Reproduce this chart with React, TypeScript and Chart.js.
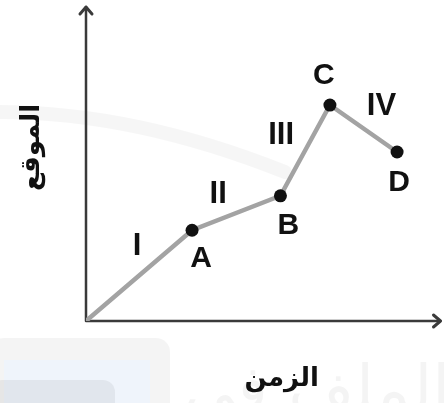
import React, { useEffect, useRef } from "react";
import { Chart, registerables } from "chart.js";

Chart.register(...registerables);

// Motion stages: origin, then A, B, C, D
const pointNames = ["", "A", "B", "C", "D"];
const timeValues = [0, 3.0, 5.5, 6.9, 8.8];
const positionValues = [0, 2.9, 4.0, 6.9, 5.4];
const segmentNames = ["I", "II", "III", "IV"];
const xTitle = "الزمن";
const yTitle = "الموقع";

// Label placement relative to the marks (pixels)
const POINT_LABEL_OFFSET = [
  [0, 0],
  [9, 29],
  [8, 30],
  [-6, -29],
  [2, 31],
];
const SEGMENT_LABEL_OFFSET = [
  [-2, -29],
  [-18, -19],
  [-24, -15],
  [18, -22],
];

const POINT_FONT = "bold 30px 'Liberation Sans', Arial, sans-serif";
const SEGMENT_FONT = "bold 31px 'Liberation Sans', Arial, sans-serif";
const TITLE_FONT = "bold 26px 'DejaVu Sans', sans-serif";
const AXIS_COLOR = "#3a3a3a";

const backdrop = {
  id: "backdrop",
  beforeDraw(chart: Chart) {
    const { ctx, width, height } = chart;
    ctx.save();
    ctx.fillStyle = "#ffffff";
    ctx.fillRect(0, 0, width, height);

    // faint swoosh
    ctx.strokeStyle = "rgba(0,0,0,0.035)";
    ctx.lineWidth = 14;
    ctx.lineCap = "round";
    ctx.beginPath();
    ctx.moveTo(-10, 112);
    ctx.quadraticCurveTo(130, 110, 285, 172);
    ctx.stroke();

    // faint card in the lower left corner
    ctx.fillStyle = "rgba(0,0,0,0.045)";
    ctx.beginPath();
    ctx.roundRect(-10, 338, 180, 80, 14);
    ctx.fill();
    ctx.fillStyle = "#eff4fb";
    ctx.fillRect(4, 360, 146, 50);
    ctx.fillStyle = "rgba(0,0,0,0.055)";
    ctx.beginPath();
    ctx.roundRect(-10, 380, 125, 40, 12);
    ctx.fill();

    // faint lettering
    ctx.fillStyle = "rgba(0,0,0,0.045)";
    ctx.font = "64px 'DejaVu Sans', sans-serif";
    ctx.textAlign = "right";
    ctx.textBaseline = "alphabetic";
    ctx.direction = "rtl";
    ctx.fillText("الملف في", width + 4, height + 8);
    ctx.restore();
  },
};

const axesAndLabels = {
  id: "axesAndLabels",
  beforeDatasetsDraw(chart: Chart) {
    const { ctx, scales } = chart;
    const x0 = scales.x.getPixelForValue(0);
    const y0 = scales.y.getPixelForValue(0);
    const yTop = chart.chartArea.top - 1;
    const xEnd = chart.chartArea.right + 1;
    ctx.save();
    ctx.strokeStyle = AXIS_COLOR;
    ctx.lineWidth = 2.5;
    ctx.lineCap = "round";
    ctx.lineJoin = "round";
    ctx.beginPath();
    ctx.moveTo(x0, y0);
    ctx.lineTo(x0, yTop);
    ctx.moveTo(x0, y0);
    ctx.lineTo(xEnd, y0);
    ctx.stroke();
    ctx.lineWidth = 3;
    ctx.beginPath();
    ctx.moveTo(x0 - 6, yTop + 7);
    ctx.lineTo(x0, yTop);
    ctx.lineTo(x0 + 6, yTop + 7);
    ctx.moveTo(xEnd - 7, y0 - 6);
    ctx.lineTo(xEnd, y0);
    ctx.lineTo(xEnd - 7, y0 + 6);
    ctx.stroke();
    ctx.restore();
  },
  afterDatasetsDraw(chart: Chart) {
    const { ctx, scales, chartArea } = chart;
    const px = timeValues.map((v) => scales.x.getPixelForValue(v));
    const py = positionValues.map((v) => scales.y.getPixelForValue(v));
    ctx.save();
    ctx.fillStyle = "#111111";
    ctx.textAlign = "center";
    ctx.textBaseline = "middle";
    ctx.font = POINT_FONT;
    pointNames.forEach((name, i) => {
      if (!name) return;
      const [dx, dy] = POINT_LABEL_OFFSET[i];
      ctx.fillText(name, px[i] + dx, py[i] + dy);
    });
    ctx.font = SEGMENT_FONT;
    segmentNames.forEach((name, i) => {
      const mx = (px[i] + px[i + 1]) / 2;
      const my = (py[i] + py[i + 1]) / 2;
      const [dx, dy] = SEGMENT_LABEL_OFFSET[i];
      ctx.fillText(name, mx + dx, my + dy);
    });

    // axis titles
    ctx.font = TITLE_FONT;
    ctx.direction = "rtl";
    ctx.fillText(xTitle, (chartArea.left + chartArea.right) / 2 + 19, chartArea.bottom + 58);
    ctx.translate(chartArea.left - 54, (chartArea.top + chartArea.bottom) / 2 - 17);
    ctx.rotate(-Math.PI / 2);
    ctx.fillText(yTitle, 0, 0);
    ctx.restore();
  },
};

export default function App() {
  const canvasRef = useRef<HTMLCanvasElement | null>(null);

  useEffect(() => {
    const canvas = canvasRef.current;
    if (!canvas) return;
    const chart = new Chart(canvas, {
      type: "line",
      data: {
        datasets: [
          {
            data: timeValues.map((t, i) => ({ x: t, y: positionValues[i] })),
            borderColor: "#a3a3a3",
            borderWidth: 4.5,
            pointRadius: pointNames.map((n) => (n ? 6.5 : 0)),
            pointBackgroundColor: "#111111",
            pointBorderColor: "#111111",
            pointBorderWidth: 0,
            tension: 0,
          },
        ],
      },
      options: {
        responsive: false,
        animation: false,
        events: [],
        layout: { padding: { left: 86, right: 2, top: 8, bottom: 82 } },
        plugins: {
          legend: { display: false },
          tooltip: { enabled: false },
        },
        scales: {
          x: {
            type: "linear",
            min: 0,
            max: 10,
            grid: { display: false, drawTicks: false },
            border: { display: false },
            ticks: { display: false },
            title: { display: false, text: xTitle },
          },
          y: {
            type: "linear",
            min: 0,
            max: 10,
            grid: { display: false, drawTicks: false },
            border: { display: false },
            ticks: { display: false },
            title: { display: false, text: yTitle },
          },
        },
      },
      plugins: [backdrop, axesAndLabels],
    });
    return () => chart.destroy();
  }, []);

  return (
    <div style={{ position: "absolute", left: 0, top: 0, width: 446, height: 403 }}>
      <canvas ref={canvasRef} width={446} height={403} />
    </div>
  );
}
